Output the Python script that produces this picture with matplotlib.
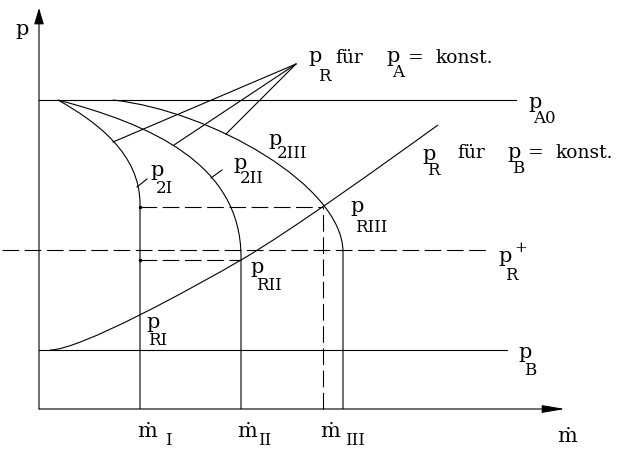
import matplotlib
matplotlib.use("Agg")
import matplotlib.pyplot as plt
from matplotlib.path import Path
from matplotlib.patches import PathPatch

plt.rcParams['font.family'] = ['DejaVu Serif', 'DejaVu Sans']

# mass flow positions of the three operating points
m_I, m_II, m_III = 101, 202, 284
# pressure levels
p_A0 = 309
p_B = 59
p_R_plus = 159
p_RI, p_RII, p_RIII = 95, 149, 202

# p2 characteristics: bezier control points (m, p), then straight down to p = 0
p2I_ctrl = [(19, 309), (58, 287), (101, 255), (101, 205)]
p2II_ctrl = [(19, 309), (110, 285), (202, 246), (202, 152)]
p2III_ctrl = [(74, 309), (173, 298), (304, 223), (304, 157)]

# p_R for constant p_B, two bezier pieces joined at p_RII
pR_ctrl = [(11, 59), (41, 59), (152, 120), (202, 149),
           (252, 178), (349, 248), (399, 284)]

# leader lines for "p_R für p_A = konst."
apex = (257, 345)
leader_ends = [(74, 267), (135, 264), (187, 275)]

fig = plt.figure(figsize=(6.2, 4.5), dpi=100)
ax = fig.add_axes([0, 0, 1, 1])
ax.set_xlim(-39, 581)
ax.set_ylim(-41, 409)
ax.axis('off')

lw = 0.8
k = 'black'
dash = (15, 5)


def curve(ctrl, drop=True):
    codes = [Path.MOVETO] + [Path.CURVE4] * (len(ctrl) - 1)
    verts = list(ctrl)
    if drop:
        verts.append((ctrl[-1][0], 0))
        codes.append(Path.LINETO)
    ax.add_patch(PathPatch(Path(verts, codes), fill=False, lw=lw, ec=k))


# axes with arrows
ax.annotate('', xy=(526, 0), xytext=(0, 0),
            arrowprops=dict(arrowstyle='-|>,head_length=1.0,head_width=0.17',
                            mutation_scale=14, lw=lw, color=k,
                            shrinkA=0, shrinkB=0))
ax.annotate('', xy=(0, 401), xytext=(0, 0),
            arrowprops=dict(arrowstyle='-|>,head_length=1.0,head_width=0.3',
                            mutation_scale=10, lw=lw, color=k,
                            shrinkA=0, shrinkB=0))

# horizontal pressure levels
ax.plot([0, 477], [p_A0, p_A0], color=k, lw=lw)
ax.plot([0, 468], [p_B, p_B], color=k, lw=lw)
ax.plot([-37, 451], [p_R_plus, p_R_plus], color=k, lw=lw, dashes=dash)

# characteristics
curve(p2I_ctrl)
curve(p2II_ctrl)
curve(p2III_ctrl)
curve(pR_ctrl, drop=False)

# construction lines
ax.plot([m_I, m_III], [p_RIII, p_RIII], color=k, lw=lw, dashes=dash)
ax.plot([m_I, m_II], [p_RII, p_RII], color=k, lw=lw, dashes=dash)
ax.plot([m_III, m_III], [0, p_RIII], color=k, lw=lw, dashes=dash)
ax.plot([m_I, m_I], [p_RIII, p_RII], 'o', color=k, ms=1.5)

for e in leader_ends:
    ax.plot([apex[0], e[0]], [apex[1], e[1]], color=k, lw=lw)
ax.plot([98, 108], [222, 230], color=k, lw=lw)
ax.plot([172, 183], [231, 239], color=k, lw=lw)


def sym(x, y, base, sub=None, sx=0, sy=0, size=15, subsize=12):
    ax.text(x, y, base, fontsize=size, ha='left', va='baseline')
    if sub:
        ax.text(sx, sy, sub, fontsize=subsize, ha='left', va='baseline')


def word(x, y, s):
    ax.text(x, y, s, fontsize=13.5, ha='left', va='baseline')


# axis labels
sym(-24, 374, 'p')
sym(518, -33, 'ṁ')
sym(98, -28, 'ṁ', 'I', 126, -36)
sym(198, -28, 'ṁ', 'II', 219, -36)
sym(281, -28, 'ṁ', 'III', 306, -36)

# curve labels
sym(489, 301, 'p', 'A0', 494, 286)
sym(111, 233, 'p', '2I', 117, 216)
sym(194, 240, 'p', '2II', 201, 226)
sym(229, 264, 'p', '2III', 238, 251)
sym(311, 197, 'p', 'RIII', 316, 177)
sym(211, 136, 'p', 'RII', 217, 119)
sym(107, 81, 'p', 'RI', 109, 64)
sym(459, 147, 'p', 'R', 466, 129)
ax.text(475, 157, '+', fontsize=11, ha='left', va='baseline')
sym(479, 51, 'p', 'B', 485, 34)

sym(269, 347, 'p', 'R', 279, 328)
word(296, 346, 'für')
sym(347, 347, 'p', 'A', 353, 332)
word(369, 346, '=')
word(396, 346, 'konst.')

sym(383, 249, 'p', 'R', 388, 234)
word(418, 251, 'für')
sym(468, 251, 'p', 'B', 473, 236)
word(489, 251, '=')
word(516, 251, 'konst.')

fig.savefig('out.png', dpi=100)
